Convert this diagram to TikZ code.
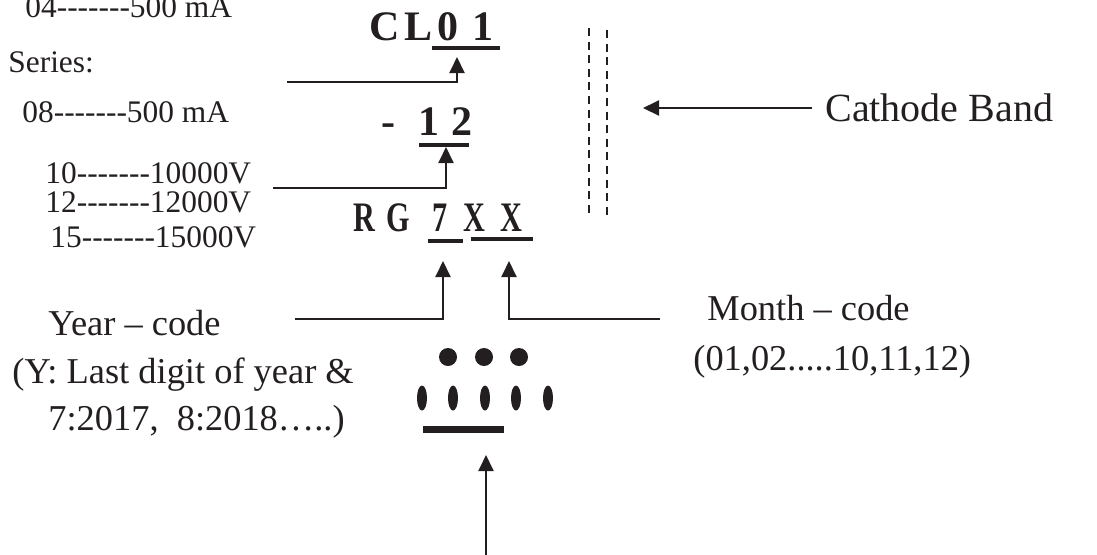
\documentclass[tikz,border=0pt]{standalone}
\usepackage{fontspec}
\setmainfont{Liberation Serif}[Ligatures=TeXOff]
\usetikzlibrary{arrows.meta}

\definecolor{ink}{RGB}{35,31,32}

\tikzset{
	lbl/.style={anchor=base west,inner sep=0pt,text=ink,font=\fontsize{15.7}{18}\selectfont},
	datelbl/.style={anchor=base west,inner sep=0pt,text=ink,font=\fontsize{18.2}{22}\selectfont},
	codetxt/.style={anchor=base west,inner sep=0pt,text=ink,font=\fontsize{21}{24}\selectfont\bfseries},
	conn/.style={draw=ink,line width=1pt,-{Triangle[length=8pt,width=7.5pt]}},
	uline/.style={draw=ink,line width=2pt},
	band/.style={draw=ink,line width=1pt,dash pattern=on 4pt off 2.8pt},
}

\begin{document}
\begin{tikzpicture}[x=0.5pt,y=-0.5pt]
\useasboundingbox (0,0) rectangle (1097,554);

% ratings on the left
\node[lbl] (cur04) at (25,17) {04-------500 mA};
\node[lbl] (series) at (8,72) {Series:};
\node[lbl] (cur08) at (22,122) {08-------500 mA};
\node[lbl] (v10) at (45,183) {10-------10000V};
\node[lbl] (v12) at (45,212) {12-------12000V};
\node[lbl] (v15) at (50,247) {15-------15000V};

% marking code
\foreach \ch/\px [count=\i] in {C/369,L/404,0/437,1/472}
	\node[codetxt] (cl\i) at (\px,40) {\ch};
\foreach \ch/\px [count=\i] in {-/381,1/418,2/451}
	\node[codetxt] (kv\i) at (\px,135) {\ch};
\foreach \ch/\px [count=\i] in {R/353,G/386,7/432,X/463,X/500}
	\node[codetxt] (rg\i) at (\px,231) {\scalebox{0.72}[1]{\ch}};

\draw[uline] (432,48) -- (500,48);
\draw[uline] (419,145) -- (469,145);
\draw[uline] (428,241) -- (463,241);
\draw[uline] (471,239) -- (533,239);

% cathode band
\draw[band] (589,28) -- (589,218);
\draw[band] (607,30) -- (607,220);
\node[anchor=base west,inner sep=0pt,text=ink,font=\fontsize{20}{24}\selectfont] (cath) at (825,121) {Cathode Band};

% date code labels
\node[datelbl] (year) at (48,335) {Year – code};
\node[datelbl] (yearA) at (12,383) {(Y: Last digit of year \&};
\node[datelbl] (yearB) at (48,430) {7:2017,\ \ 8:2018…..)};
\node[datelbl] (month) at (707,320) {Month – code};
\node[datelbl] (monthA) at (693,370) {(01,02.....10,11,12)};

% logo
\foreach \px in {448,484,519}
	\fill[ink] (\px,357) circle[radius=4.5pt];
\foreach \px in {422,453,485,516,548}
	\fill[ink] (\px,398) ellipse[x radius=2.5pt,y radius=6.25pt];
\fill[ink] (423,426) rectangle (504,433);

% connectors
\coordinate (serS) at (287,82);
\coordinate (serT) at (457,57);
\coordinate (kvS) at (273,188);
\coordinate (kvT) at (446,147);
\coordinate (yrS) at (295,319);
\coordinate (yrT) at (443,261);
\coordinate (moS) at (660,319);
\coordinate (moT) at (509,261);
\coordinate (caS) at (812,108);
\coordinate (caT) at (643,108);
\coordinate (lgS) at (486,560);
\coordinate (lgT) at (486,455);

\draw[conn] (serS) -| (serT);
\draw[conn] (kvS) -| (kvT);
\draw[conn] (yrS) -| (yrT);
\draw[conn] (moS) -| (moT);
\draw[conn] (caS) -- (caT);
\draw[conn] (lgS) -- (lgT);

\end{tikzpicture}
\end{document}
